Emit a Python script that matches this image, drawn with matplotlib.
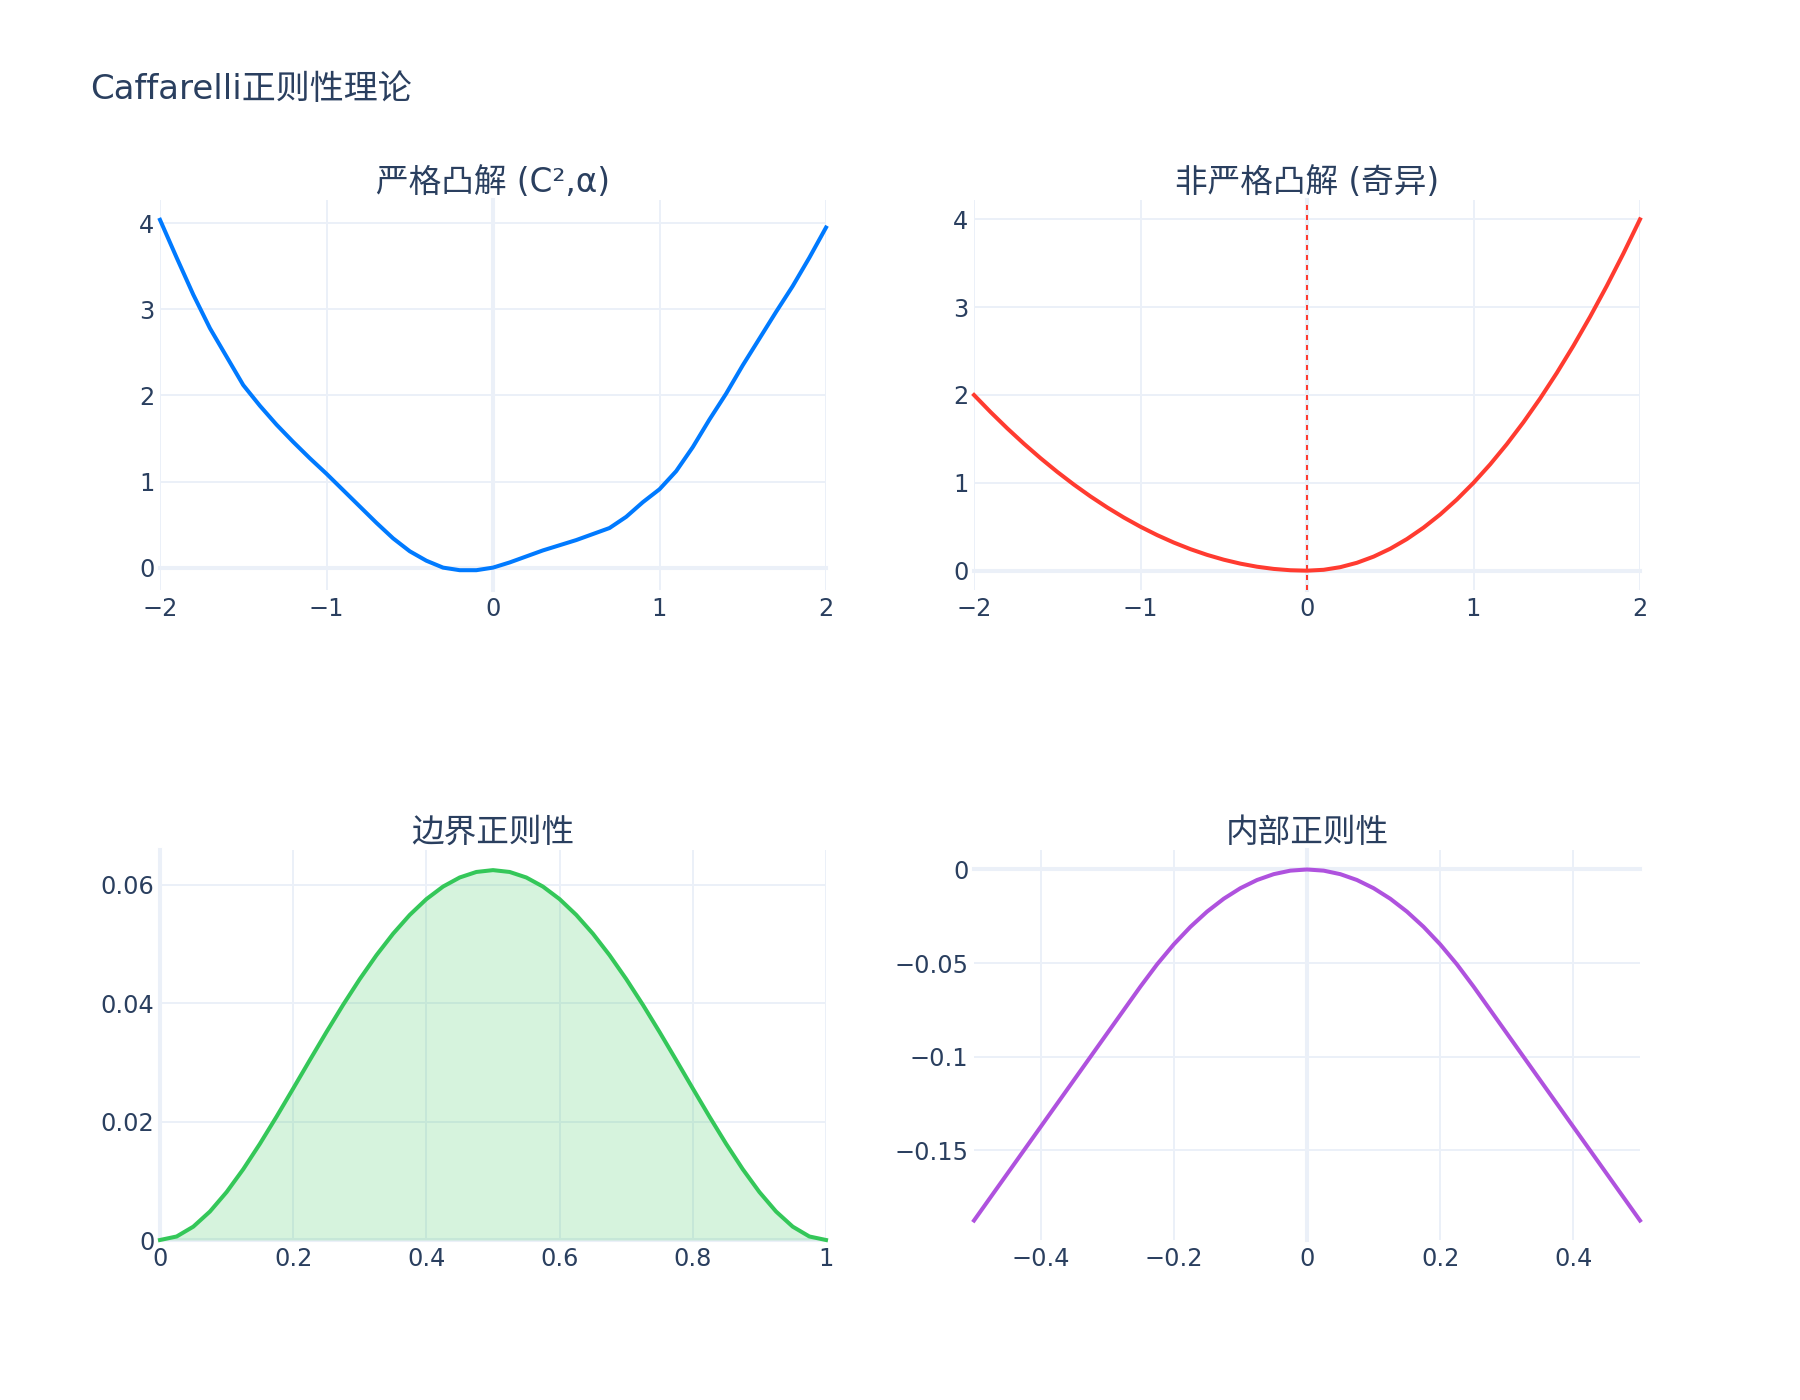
import matplotlib
matplotlib.use("Agg")
import matplotlib.pyplot as plt

plt.rcParams['font.family'] = ['DejaVu Sans', 'Noto Sans CJK SC']

# 严格凸解 (C²,α)
x_strict = [-2.0, -1.9, -1.8, -1.7, -1.6, -1.5, -1.4, -1.3, -1.2, -1.1, -1.0,
            -0.9, -0.8, -0.7, -0.6, -0.5, -0.4, -0.3, -0.2, -0.1, 0.0,
            0.1, 0.2, 0.3, 0.4, 0.5, 0.6, 0.7, 0.8, 0.9, 1.0,
            1.1, 1.2, 1.3, 1.4, 1.5, 1.6, 1.7, 1.8, 1.9, 2.0]
y_strict = [4.04, 3.60, 3.17, 2.78, 2.45, 2.12, 1.88, 1.66, 1.46, 1.27, 1.09,
            0.90, 0.71, 0.52, 0.34, 0.19, 0.08, 0.00, -0.03, -0.03, 0.00,
            0.06, 0.13, 0.20, 0.26, 0.32, 0.39, 0.46, 0.59, 0.76, 0.91,
            1.12, 1.40, 1.72, 2.02, 2.35, 2.66, 2.97, 3.27, 3.60, 3.95]

# 非严格凸解 (奇异)
x_sing = x_strict
y_sing = [2.0, 1.805, 1.62, 1.445, 1.28, 1.125, 0.98, 0.845, 0.72, 0.605, 0.5,
          0.405, 0.32, 0.245, 0.18, 0.125, 0.08, 0.045, 0.02, 0.005, 0.0,
          0.01, 0.04, 0.09, 0.16, 0.25, 0.36, 0.49, 0.64, 0.81, 1.0,
          1.21, 1.44, 1.69, 1.96, 2.25, 2.56, 2.89, 3.24, 3.61, 4.0]
sing_line_x = 0

# 边界正则性
x_bd = [0.0, 0.025, 0.05, 0.075, 0.1, 0.125, 0.15, 0.175, 0.2, 0.225, 0.25,
        0.275, 0.3, 0.325, 0.35, 0.375, 0.4, 0.425, 0.45, 0.475, 0.5,
        0.525, 0.55, 0.575, 0.6, 0.625, 0.65, 0.675, 0.7, 0.725, 0.75,
        0.775, 0.8, 0.825, 0.85, 0.875, 0.9, 0.925, 0.95, 0.975, 1.0]
y_bd = [0.0, 0.000594, 0.002256, 0.004813, 0.0081, 0.011963, 0.016256, 0.020844, 0.0256, 0.030407, 0.035156,
        0.03975, 0.0441, 0.048125, 0.051756, 0.054932, 0.0576, 0.059719, 0.061256, 0.062188, 0.0625,
        0.062188, 0.061256, 0.059719, 0.0576, 0.054932, 0.051756, 0.048125, 0.0441, 0.03975, 0.035156,
        0.030407, 0.0256, 0.020844, 0.016256, 0.011963, 0.0081, 0.004813, 0.002256, 0.000594, 0.0]

# 内部正则性
x_in = [-0.5, -0.475, -0.45, -0.425, -0.4, -0.375, -0.35, -0.325, -0.3, -0.275, -0.25,
        -0.225, -0.2, -0.175, -0.15, -0.125, -0.1, -0.075, -0.05, -0.025, 0.0,
        0.025, 0.05, 0.075, 0.1, 0.125, 0.15, 0.175, 0.2, 0.225, 0.25,
        0.275, 0.3, 0.325, 0.35, 0.375, 0.4, 0.425, 0.45, 0.475, 0.5]
y_in = [-0.1875, -0.175, -0.1625, -0.15, -0.1375, -0.125, -0.1125, -0.1, -0.0875, -0.075, -0.0625,
        -0.050625, -0.04, -0.030625, -0.0225, -0.015625, -0.01, -0.005625, -0.0025, -0.000625, 0.0,
        -0.000625, -0.0025, -0.005625, -0.01, -0.015625, -0.0225, -0.030625, -0.04, -0.050625, -0.0625,
        -0.075, -0.0875, -0.1, -0.1125, -0.125, -0.1375, -0.15, -0.1625, -0.175, -0.1875]

titles = ["严格凸解 (C²,α)", "非严格凸解 (奇异)", "边界正则性", "内部正则性"]
main_title = "Caffarelli正则性理论"

xticks = [[-2, -1, 0, 1, 2], [-2, -1, 0, 1, 2],
          [0, 0.2, 0.4, 0.6, 0.8, 1], [-0.4, -0.2, 0, 0.2, 0.4]]
yticks = [[0, 1, 2, 3, 4], [0, 1, 2, 3, 4],
          [0, 0.02, 0.04, 0.06], [-0.15, -0.1, -0.05, 0]]
xlims = [(-2, 2), (-2, 2), (0, 1), (-0.5, 0.5)]
ylims = [(-0.26, 4.27), (-0.22, 4.22), (0, 0.0659), (-0.1979, 0.0104)]

text_c = '#2a3f5f'
grid_c = '#EBF0F8'

fig = plt.figure(figsize=(18, 14), dpi=100)
W, H = 1800, 1400
boxes = [(160, 200), (974, 200), (160, 850), (974, 850)]
axes = []
for (l, t) in boxes:
    ax = fig.add_axes([l / W, 1 - (t + 390) / H, 666 / W, 390 / H])
    axes.append(ax)


def fmt(v):
    return f"{v:g}".replace('-', '\u2212')


for i, ax in enumerate(axes):
    ax.set_xlim(*xlims[i])
    ax.set_ylim(*ylims[i])
    ax.set_xticks(xticks[i])
    ax.set_xticklabels([fmt(v) for v in xticks[i]])
    ax.set_yticks(yticks[i])
    ax.set_yticklabels([fmt(v) for v in yticks[i]])
    ax.grid(True, color=grid_c, lw=1.44, zorder=0)
    ax.set_axisbelow(True)
    for s in ax.spines.values():
        s.set_visible(False)
    ax.tick_params(length=0, labelsize=17.3, labelcolor=text_c, pad=4)
    ax.tick_params(axis='x', pad=5)
    ax.axhline(0, color=grid_c, lw=2.9, zorder=0.5)
    ax.axvline(0, color=grid_c, lw=2.9, zorder=0.5)
    ax.set_title(titles[i], fontsize=23.5, color=text_c, pad=6)

axes[0].plot(x_strict, y_strict, color='#007AFF', lw=2.9, zorder=3)
axes[1].plot(x_sing, y_sing, color='#FF3B30', lw=2.9, zorder=3)
axes[1].axvline(sing_line_x, color='#FF3B30', lw=1.44, ls=(0, (2.5, 2.5)), zorder=4)
axes[2].fill_between(x_bd, y_bd, 0, color='#34C759', alpha=0.2, lw=0, zorder=2)
axes[2].plot(x_bd, y_bd, color='#34C759', lw=2.9, zorder=3)
axes[3].plot(x_in, y_in, color='#AF52DE', lw=2.9, zorder=3)

for ax in axes:
    for ln in ax.lines:
        ln.set_clip_on(False)

fig.text(90 / W, 1 - 90 / H, main_title, fontsize=24.5, color=text_c, va='center', ha='left')

fig.savefig('out.png', dpi=100, facecolor='white')
